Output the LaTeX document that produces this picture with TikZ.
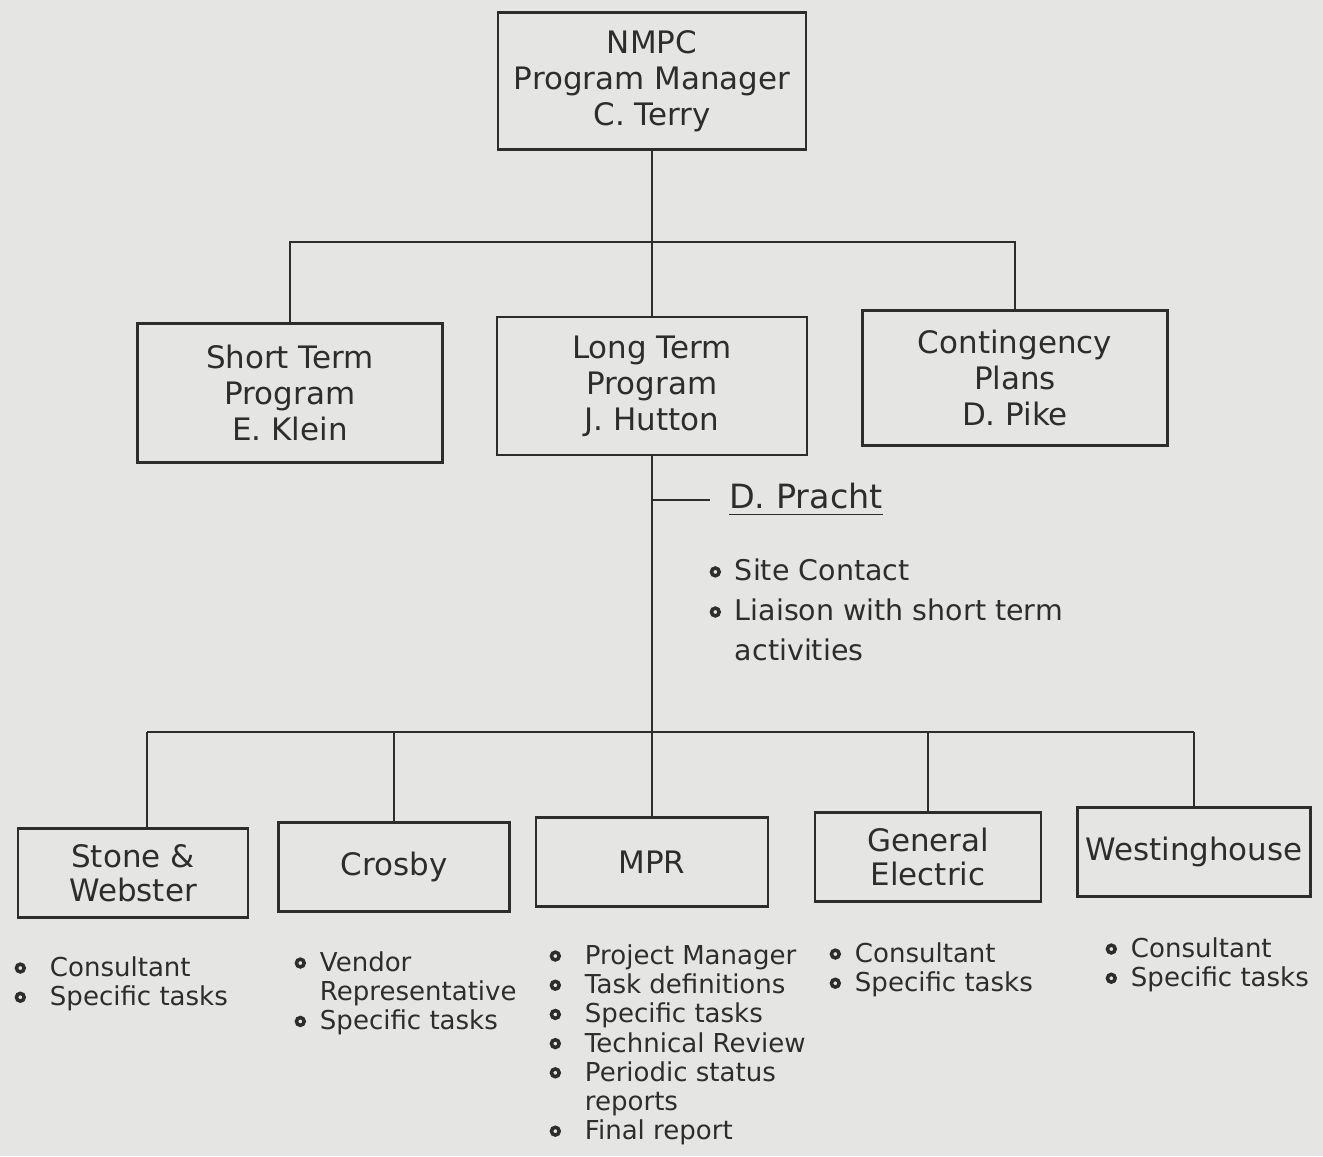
\documentclass[tikz,border=0pt]{standalone}
\usepackage{fontspec}
\setmainfont{DejaVu Sans}
\usetikzlibrary{calc}
\definecolor{scanbg}{RGB}{229,229,227}
\definecolor{ink}{RGB}{45,45,45}
\newcommand{\bul}[1][1.4mm]{\tikz[baseline=-2.4pt]\draw[ink, line width=1pt] (0,0) circle (1.1pt);\hspace{#1}}

\begin{document}
\begin{tikzpicture}[x=0.01cm, y=-0.01cm, ink, line width=0.7pt,
    box/.style={draw=ink, rectangle, align=center, inner sep=0pt, font=\fontsize{8.8}{10.2}\selectfont},
    lowbox/.style={box, minimum height=0.89cm, font=\fontsize{8.8}{9.7}\selectfont},
    tasks/.style={anchor=north west, align=left, inner sep=0pt, font=\fontsize{7.4}{8.3}\selectfont}]
  \fill[scanbg] (0,0) rectangle (1323,1156);

  \node[box, minimum width=3.08cm, minimum height=1.37cm] (nmpc) at (652,81) {NMPC\\Program Manager\\C. Terry};
  \node[box, minimum width=3.05cm, minimum height=1.39cm] (short) at (290,393) {Short Term\\Program\\E. Klein};
  \node[box, minimum width=3.10cm, minimum height=1.38cm] (long) at (652,386) {Long Term\\Program\\J. Hutton};
  \node[box, minimum width=3.05cm, minimum height=1.35cm] (cont) at (1015,378) {Contingency\\Plans\\D. Pike};

  \coordinate (bus1) at (652,242);
  \draw (nmpc.south) -- (nmpc.south |- bus1);
  \draw (short.north) -- (short.north |- bus1) -- (cont.north |- bus1) -- (cont.north);
  \draw (long.north) -- (long.north |- bus1);

  % site contact
  \node[anchor=west, inner sep=1.8mm, font=\fontsize{9.5}{11}\selectfont] (pracht) at (710,500) {\underline{D. Pracht}};
  \draw (long.south |- pracht.west) -- (pracht.west);
  \node[tasks, font=\fontsize{8.1}{11.4}\selectfont] (prachtlist) at (709,558)
    {\bul Site Contact\\\bul Liaison with short term\\\hphantom{\bul}activities};

  \node[lowbox, minimum width=2.30cm] (sw) at (133,873) {Stone \&\\Webster};
  \node[lowbox, minimum width=2.31cm] (crosby) at (394,867) {Crosby};
  \node[lowbox, minimum width=2.32cm] (mpr) at (652,862) {MPR};
  \node[lowbox, minimum width=2.26cm] (ge) at (928,857) {General\\Electric};
  \node[lowbox, minimum width=2.33cm] (west) at (1194,852) {Westinghouse};

  \coordinate (bus2) at (652,732);
  \draw (long.south) -- (long.south |- bus2);
  \draw (sw.73 |- bus2) -- (west.north |- bus2);
  \draw (sw.73) -- (sw.73 |- bus2);
  \foreach \b in {crosby,mpr,ge,west}
    \draw (\b.north) -- (\b.north |- bus2);

  % what each one does
  \node[tasks] (swlist) at (14,956) {\bul[2.4mm]Consultant\\\bul[2.4mm]Specific tasks};
  \node[tasks] (crosbylist) at (294,951) {\bul Vendor\\\hphantom{\bul}Representative\\\bul Specific tasks};
  \node[tasks] (mprlist) at (549,944) {\bul[2.4mm]Project Manager\\\bul[2.4mm]Task definitions\\\bul[2.4mm]Specific tasks\\
    \bul[2.4mm]Technical Review\\\bul[2.4mm]Periodic status\\\hphantom{\bul[2.4mm]}reports\\\bul[2.4mm]Final report};
  \node[tasks] (gelist) at (829,942) {\bul Consultant\\\bul Specific tasks};
  \node[tasks] (westlist) at (1105,937) {\bul Consultant\\\bul Specific tasks};
\end{tikzpicture}
\end{document}
